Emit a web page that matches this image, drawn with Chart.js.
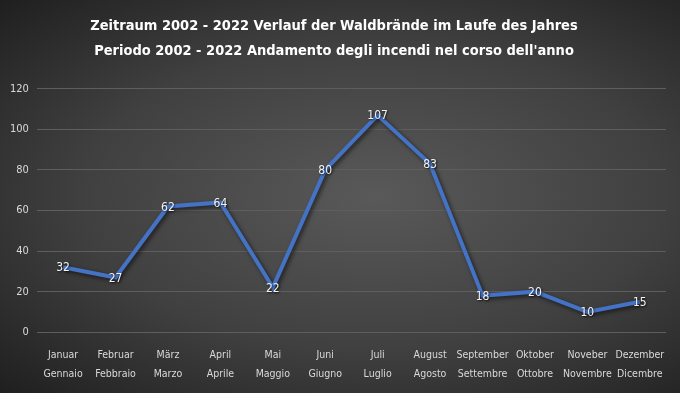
<!DOCTYPE html>
<html>
<head>
<meta charset="utf-8">
<script src="https://cdn.jsdelivr.net/npm/chart.js@4"></script>
<style>
  html, body { margin: 0; padding: 0; }
  body {
    width: 680px; height: 393px; overflow: hidden;
    background: radial-gradient(ellipse at 55% 50%, #595959 0%, #404040 55%, #1f1f1f 100%);
  }
  #wrap { width: 680px; height: 393px; }
</style>
</head>
<body>
<div id="wrap"><canvas id="chart1"></canvas></div>
<script>
var months = [
    ['Januar', 'Gennaio'], ['Februar', 'Febbraio'], ['März', 'Marzo'],
    ['April', 'Aprile'], ['Mai', 'Maggio'], ['Juni', 'Giugno'],
    ['Juli', 'Luglio'], ['August', 'Agosto'], ['September', 'Settembre'],
    ['Oktober', 'Ottobre'], ['Noveber', 'Novembre'], ['Dezember', 'Dicembre']
];
var fires = [32, 27, 62, 64, 22, 80, 107, 83, 18, 20, 10, 15];
var titleLines = [
    'Zeitraum 2002 - 2022 Verlauf der Waldbrände im Laufe des Jahres',
    "Periodo 2002 - 2022 Andamento degli incendi nel corso dell'anno"
];

var fontName = "'DejaVu Sans Condensed', 'Liberation Sans Narrow', sans-serif";

// line shadow
var shadowPlugin = {
    id: 'lineShadow',
    beforeDatasetDraw: function (chart) {
        var c = chart.ctx;
        c.save();
        c.shadowColor = 'rgba(0,0,0,0.6)';
        c.shadowBlur = 4;
        c.shadowOffsetX = 2;
        c.shadowOffsetY = 2;
    },
    afterDatasetDraw: function (chart) {
        chart.ctx.restore();
    }
};

// value labels on the points
var labelPlugin = {
    id: 'pointLabels',
    afterDatasetsDraw: function (chart) {
        var c = chart.ctx;
        var meta = chart.getDatasetMeta(0);
        c.save();
        c.font = '12px ' + fontName;
        c.fillStyle = '#f2f2f2';
        c.textAlign = 'center';
        c.textBaseline = 'middle';
        c.shadowColor = 'rgba(0,0,0,0.7)';
        c.shadowBlur = 2;
        c.shadowOffsetX = 1;
        c.shadowOffsetY = 1;
        meta.data.forEach(function (pt, i) {
            c.fillText(String(fires[i]), pt.x, pt.y + 1);
        });
        c.restore();
    }
};

var ctx = document.getElementById('chart1').getContext('2d');
var myChart1 = new Chart(ctx, {
    type: 'line',
    data: {
        labels: months,
        datasets: [{
            data: fires,
            borderColor: '#4472C4',
            borderWidth: 4,
            pointRadius: 0,
            tension: 0,
            fill: false
        }]
    },
    options: {
        responsive: true,
        maintainAspectRatio: false,
        animation: false,
        layout: { padding: { left: 2, right: 14, top: 10, bottom: 3 } },
        plugins: {
            legend: { display: false },
            tooltip: { enabled: false },
            title: {
                display: true,
                text: titleLines,
                color: '#ffffff',
                font: { family: fontName, size: 14.5, weight: 'bold', lineHeight: 1.72 },
                padding: { top: 4, bottom: 25 }
            }
        },
        scales: {
            x: {
                offset: true,
                grid: { display: false },
                border: { display: false },
                ticks: {
                    color: '#d9d9d9',
                    font: { family: fontName, size: 10.5, lineHeight: 1.8 },
                    maxRotation: 0,
                    autoSkip: false,
                    padding: 6
                }
            },
            y: {
                min: 0,
                max: 120,
                grid: { color: '#5e5e5e', lineWidth: 1, drawTicks: false },
                border: { display: false },
                ticks: {
                    stepSize: 20,
                    color: '#d9d9d9',
                    font: { family: fontName, size: 11 },
                    padding: 8
                }
            }
        }
    },
    plugins: [shadowPlugin, labelPlugin]
});
</script>
</body>
</html>
